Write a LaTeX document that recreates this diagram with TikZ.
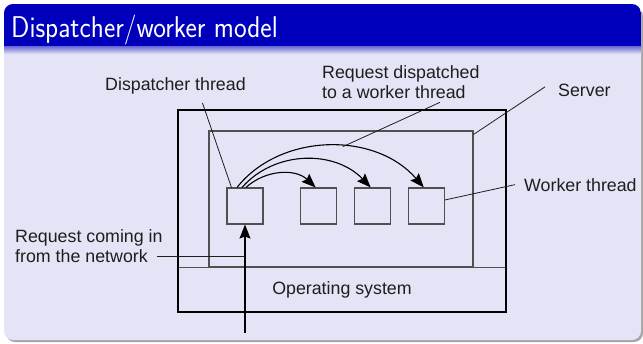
\documentclass[tikz,border=0pt]{standalone}
\usepackage{fontspec}
\setmainfont{Liberation Sans}
\usetikzlibrary{positioning,arrows.meta}

\definecolor{titleblue}{RGB}{0,0,188}
\definecolor{slidebg}{RGB}{228,228,246}
\definecolor{linegray}{RGB}{80,80,80}
\definecolor{textgray}{RGB}{30,30,30}

\tikzset{
  heading/.style={anchor=base west, inner sep=0pt, text=white,
    font=\sffamily\fontsize{30}{34}\selectfont},
  lbl/.style={inner sep=0pt, text=textgray, font=\fontsize{17.8}{19.5}\selectfont},
  thread/.style={draw=linegray, line width=1.1pt, minimum width=36pt,
    minimum height=36pt, inner sep=0pt},
  leader/.style={draw=textgray, line width=0.8pt},
  disp/.style={draw=black, line width=1.1pt, -{Stealth[length=14pt,width=11pt,inset=2pt]}},
}

\begin{document}
\begin{tikzpicture}[x=1pt,y=-1pt,node distance=17pt]
  \useasboundingbox (0,0) rectangle (643,343);

  % slide frame and title bar
  \fill[black!35,rounded corners=9pt] (6,7) rectangle (643,342);
  \fill[slidebg,rounded corners=9pt] (4,4) rectangle (641,340);
  \begin{scope}
    \clip[rounded corners=9pt] (4,4) rectangle (641,80);
    \fill[titleblue] (4,4) rectangle (641,46);
  \end{scope}
  \shade[top color=titleblue!60, bottom color=slidebg] (4,46) rectangle (641,54);
  \node[heading] (title) at (11,37) {\scalebox{0.9}[1]{Dispatcher/worker model}};

  % machine, operating system and server
  \node[draw=linegray, line width=1pt, minimum width=328pt, minimum height=45pt,
    inner sep=0pt, lbl] (os) at (342,289.5) {Operating system};
  \node[draw=linegray, line width=1.1pt, minimum width=264pt, minimum height=136pt,
    inner sep=0pt] (server) at (341,199) {};
  \node[draw=black, line width=2.2pt, minimum width=328pt, minimum height=202pt,
    inner sep=0pt] (machine) at (342,211) {};

  % threads
  \node[thread] (d) at (245,206) {};
  \node[thread, right=36pt of d] (w1) {};
  \node[thread, right=of w1] (w2) {};
  \node[thread, right=of w2] (w3) {};

  % dispatching
  \draw[disp] ([xshift=1pt]d.north) .. controls (265,170) and (295,168) .. ([xshift=-2.5pt]w1.north);
  \draw[disp] ([xshift=-3pt]d.north) .. controls (275,150) and (335,150) .. ([xshift=-1.5pt]w2.north);
  \draw[disp] ([xshift=-8pt]d.north) .. controls (280,133) and (375,131) .. ([xshift=-2.5pt]w3.north)
    coordinate[pos=0.57] (arctop);

  % incoming request
  \coordinate (net) at (245,333);
  \draw[disp] (net) -- (d.south);

  % labels
  \node[lbl, anchor=base west] (dlbl) at (105,90) {Dispatcher thread};
  \node[lbl, anchor=base west, align=left] (rdlbl) at (322,98)
    {Request dispatched\\to a worker thread};
  \node[lbl, anchor=base west] (slbl) at (558,96) {Server};
  \node[lbl, anchor=base west] (wlbl) at (524,191) {Worker thread};
  \node[lbl, anchor=base west, align=left] (rclbl) at (15,262)
    {Request coming in\\from the network};

  % leaders
  \coordinate (rcin) at (157,256);
  \draw[leader] ([shift={(27,9)}]dlbl.south) -- ([xshift=5pt]d.north west);
  \draw[leader] ([shift={(39,4)}]rdlbl.south) -- (arctop);
  \draw[leader] ([shift={(-13,-3)}]slbl.west) -- ([yshift=-4pt]server.north east);
  \draw[leader] ([xshift=-9pt]wlbl.west) -- ([yshift=6pt]w3.east);
  \draw[leader] (rcin) -- (net |- rcin);
\end{tikzpicture}
\end{document}
